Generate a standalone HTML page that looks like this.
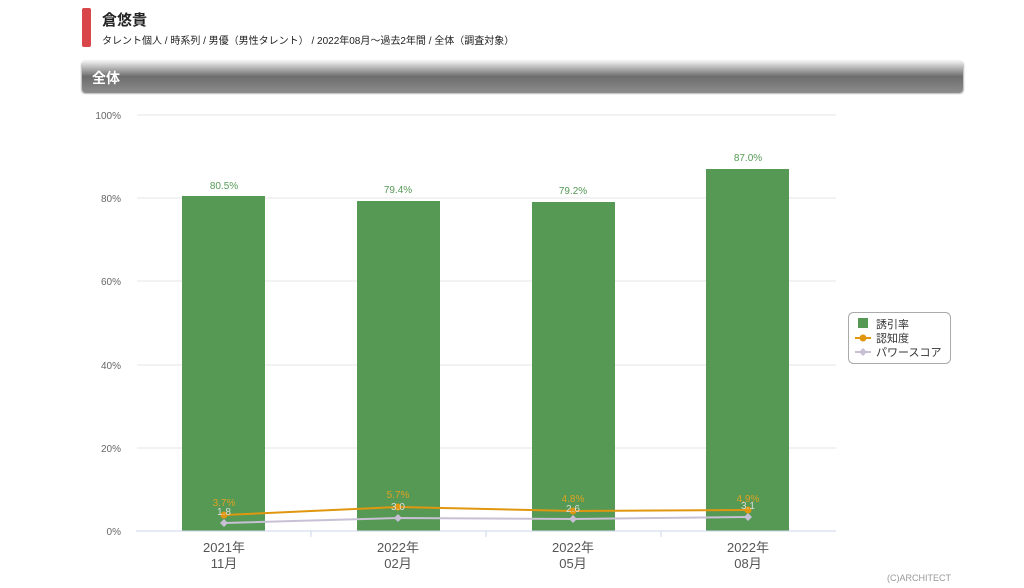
<!DOCTYPE html><html><head><meta charset="utf-8"><style>
body{margin:0;width:1024px;height:588px;background:#fff;font-family:"Liberation Sans","Noto Sans CJK JP",sans-serif;position:relative;overflow:hidden}
.bar{position:absolute;left:82px;top:8px;width:9px;height:39px;background:#d9464a;border-radius:2px}
.t1{position:absolute;left:102px;top:9px;font-size:15px;font-weight:bold;color:#222}
.t2{position:absolute;left:102px;top:32px;font-size:10px;color:#222}
.hd{position:absolute;left:82px;top:61px;width:881px;height:31px;background:linear-gradient(#f0f0f0,#6d6d6d 50%,#8a8a8a);border-radius:3px;box-shadow:0 1px 2px #555}
.hd span{position:absolute;left:10px;top:7px;color:#fff;font-size:14px;font-weight:bold}
</style></head><body>
<div class="bar"></div><div class="t1">倉悠貴</div>
<div class="t2">タレント個人 / 時系列 / 男優（男性タレント） / 2022年08月～過去2年間 / 全体（調査対象）</div>
<div class="hd"><span>全体</span></div>
<svg width="1024" height="588" style="position:absolute;left:0;top:0" font-family="Liberation Sans,Noto Sans CJK JP,sans-serif">
<g stroke="#e6e6e6"><line x1="137" x2="836" y1="115" y2="115"/><line x1="137" x2="836" y1="198" y2="198"/><line x1="137" x2="836" y1="281" y2="281"/><line x1="137" x2="836" y1="365" y2="365"/><line x1="137" x2="836" y1="448" y2="448"/></g>
<g font-size="10" fill="#666" text-anchor="end"><text x="121" y="119">100%</text><text x="121" y="202">80%</text><text x="121" y="285">60%</text><text x="121" y="369">40%</text><text x="121" y="452">20%</text><text x="121" y="535">0%</text></g>
<g fill="#559955"><rect x="182" y="196" width="83" height="335"/><rect x="357" y="201" width="83" height="330"/><rect x="532" y="202" width="83" height="329"/><rect x="706" y="169" width="83" height="362"/></g>
<g font-size="10" fill="#559955" text-anchor="middle"><text x="224" y="189">80.5%</text><text x="398" y="193">79.4%</text><text x="573" y="194">79.2%</text><text x="748" y="161">87.0%</text></g>
<line x1="136" x2="836" y1="531" y2="531" stroke="#ccd6eb"/>
<g stroke="#ccd6eb"><line x1="311" x2="311" y1="531" y2="537"/><line x1="486" x2="486" y1="531" y2="537"/><line x1="661" x2="661" y1="531" y2="537"/></g>
<polyline points="224,515 398,507 573,511 748,510" fill="none" stroke="#e0970f" stroke-width="2"/>
<g fill="#e0970f"><circle cx="224" cy="515" r="3.5"/><circle cx="398" cy="507" r="3.5"/><circle cx="573" cy="511" r="3.5"/><circle cx="748" cy="510" r="3.5"/></g>
<polyline points="224,523 398,518 573,519 748,517" fill="none" stroke="#c8c0d4" stroke-width="2"/>
<g fill="#c8c0d4"><path d="M224 519l4 4-4 4-4-4z"/><path d="M398 514l4 4-4 4-4-4z"/><path d="M573 515l4 4-4 4-4-4z"/><path d="M748 513l4 4-4 4-4-4z"/></g>
<g font-size="10" fill="#e0a020" text-anchor="middle"><text x="224" y="506">3.7%</text><text x="398" y="498">5.7%</text><text x="573" y="502">4.8%</text><text x="748" y="502">4.9%</text></g>
<g font-size="10" fill="#ddd" text-anchor="middle"><text x="224" y="515">1.8</text><text x="398" y="510">3.0</text><text x="573" y="512">2.6</text><text x="748" y="509">3.1</text></g>
<g font-size="13" fill="#555" text-anchor="middle"><text x="224" y="552">2021年</text><text x="224" y="568">11月</text><text x="398" y="552">2022年</text><text x="398" y="568">02月</text><text x="573" y="552">2022年</text><text x="573" y="568">05月</text><text x="748" y="552">2022年</text><text x="748" y="568">08月</text></g>
<rect x="848.5" y="312.5" width="102" height="51" rx="5" fill="#fff" stroke="#aaa"/>
<rect x="858" y="318" width="10" height="10" fill="#559955"/>
<line x1="855" x2="871" y1="338" y2="338" stroke="#e0970f" stroke-width="2"/><circle cx="863" cy="338" r="3.5" fill="#e0970f"/>
<line x1="855" x2="871" y1="352" y2="352" stroke="#c8c0d4" stroke-width="2"/><path d="M863 348l4 4-4 4-4-4z" fill="#c8c0d4"/>
<g font-size="11" fill="#333"><text x="876" y="328">誘引率</text><text x="876" y="342">認知度</text><text x="876" y="356">パワースコア</text></g>
<text x="951" y="581" font-size="9" fill="#999" text-anchor="end">(C)ARCHITECT</text>
</svg>
</body></html>
